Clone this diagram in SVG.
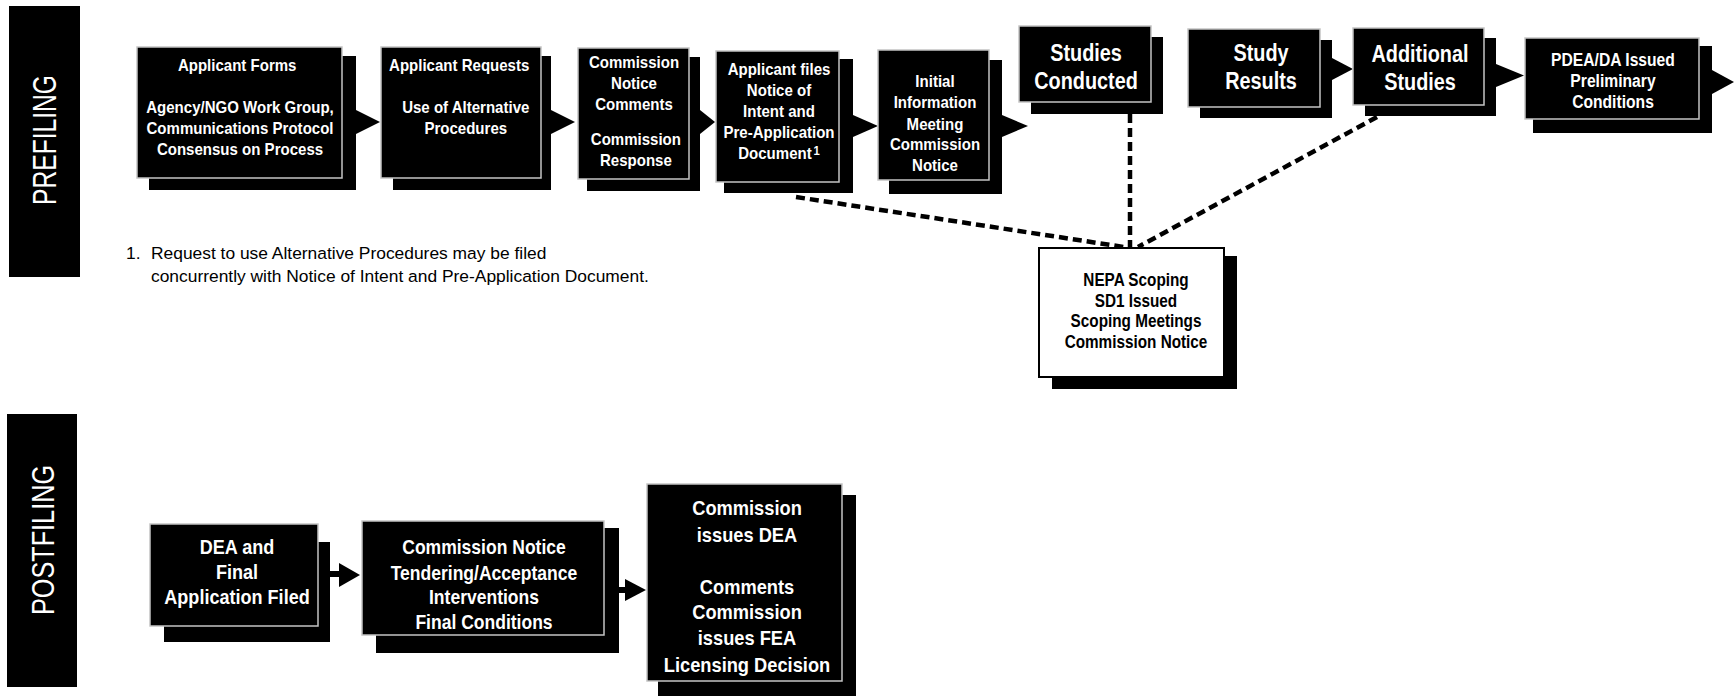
<svg xmlns="http://www.w3.org/2000/svg" width="1734" height="696" viewBox="0 0 1734 696">
<style>
.bg{fill:#fff}
.s{fill:#000}
.f{fill:#000;stroke:#c4c4c4;stroke-width:1.5}
.w{fill:#fff;stroke:#000;stroke-width:2}
.t{font-family:"Liberation Sans",Arial,sans-serif;font-weight:bold;fill:#fff;text-anchor:middle}
.tb{fill:#000}
.t16{font-size:16px}
.t18{font-size:18px}
.t21{font-size:21px}
.t24{font-size:24.5px}
.band{fill:#000}
.bl{font-family:"Liberation Sans",Arial,sans-serif;fill:#fff;text-anchor:middle}
.note{font-family:"Liberation Sans",Arial,sans-serif;font-size:17.4px;fill:#000}
.dash{fill:none;stroke:#000;stroke-width:4.5;stroke-dasharray:9 5}
.arr{fill:#000}
</style>
<rect class="bg" x="0" y="0" width="1734" height="696"/>

<g id="prefiling-band">
<rect class="band" x="9" y="6" width="71" height="271"/>
<text class="bl" font-size="33.5" transform="translate(55.5,140) rotate(-90)" textLength="130" lengthAdjust="spacingAndGlyphs">PREFILING</text>
</g>
<g id="postfiling-band">
<rect class="band" x="7" y="414" width="70" height="273"/>
<text class="bl" font-size="32" transform="translate(54,540) rotate(-90)" textLength="150" lengthAdjust="spacingAndGlyphs">POSTFILING</text>
</g>

<g id="footnote">
<text class="note" y="258.5"><tspan x="126">1.</tspan><tspan x="151">Request to use Alternative Procedures may be filed</tspan></text>
<text class="note" x="151" y="281.5">concurrently with Notice of Intent and Pre-Application Document.</text>
</g>

<g id="connectors">
<path class="dash" d="M796 197 L1124 247"/>
<path class="dash" d="M1130 114 L1130 247"/>
<path class="dash" d="M1377 117 L1138 247"/>
<polygon class="arr" points="356,110 380,122 356,134"/>
<polygon class="arr" points="551,110 575,122 551,134"/>
<polygon class="arr" points="700,110 715,122 700,134"/>
<polygon class="arr" points="853,115 878,126 853,137"/>
<polygon class="arr" points="1002,115 1028,126 1002,137"/>
<polygon class="arr" points="1332,58 1353,69 1332,80"/>
<polygon class="arr" points="1496,64 1524,75.5 1496,87"/>
<polygon class="arr" points="1712,70 1734,82 1712,94"/>
<rect class="arr" x="330" y="571" width="10" height="6"/>
<polygon class="arr" points="339,563 360,575 339,587"/>
<rect class="arr" x="619" y="587" width="7" height="6"/>
<polygon class="arr" points="625,579 646,590 625,601"/>
</g>

<g id="n1">
<rect class="s" x="149" y="56" width="207" height="134"/>
<rect class="f" x="137" y="47" width="205" height="131"/>
<text class="t t16" transform="translate(240,0) scale(0.94,1)"><tspan x="-3" y="71.5">Applicant Forms</tspan><tspan x="0" y="113">Agency/NGO Work Group,</tspan><tspan x="0" y="134">Communications Protocol</tspan><tspan x="0" y="155">Consensus on Process</tspan></text>
</g>
<g id="n2">
<rect class="s" x="393" y="56" width="158" height="134"/>
<rect class="f" x="381" y="47" width="160" height="131"/>
<text class="t t16" transform="translate(462,0) scale(0.94,1)"><tspan x="-3" y="71.5">Applicant Requests</tspan><tspan x="4" y="113">Use of Alternative</tspan><tspan x="4" y="134">Procedures</tspan></text>
</g>
<g id="n3">
<rect class="s" x="587" y="57" width="113" height="134"/>
<rect class="f" x="578" y="48" width="111" height="131"/>
<text class="t t16" transform="translate(634,0) scale(0.94,1)"><tspan x="0" y="68">Commission</tspan><tspan x="0" y="89">Notice</tspan><tspan x="0" y="110">Comments</tspan><tspan x="2" y="145">Commission</tspan><tspan x="2" y="166">Response</tspan></text>
</g>
<g id="n4">
<rect class="s" x="724" y="59" width="129" height="134"/>
<rect class="f" x="716" y="51" width="123" height="131"/>
<text class="t t16" transform="translate(779,0) scale(0.94,1)"><tspan x="0" y="75">Applicant files</tspan><tspan x="0" y="96">Notice of</tspan><tspan x="0" y="117">Intent and</tspan><tspan x="0" y="138">Pre-Application</tspan><tspan x="0" y="159">Document<tspan font-size="12" dx="2" dy="-4">1</tspan></tspan></text>
</g>
<g id="n5">
<rect class="s" x="889" y="60" width="113" height="134"/>
<rect class="f" x="878" y="50" width="111" height="130"/>
<text class="t t16" transform="translate(935,0) scale(0.94,1)"><tspan x="0" y="87">Initial</tspan><tspan x="0" y="108">Information</tspan><tspan x="0" y="130">Meeting</tspan><tspan x="0" y="150">Commission</tspan><tspan x="0" y="171">Notice</tspan></text>
</g>
<g id="n6">
<rect class="s" x="1031" y="37" width="132" height="77"/>
<rect class="f" x="1019" y="26" width="132" height="76"/>
<text class="t t24" transform="translate(1086,0) scale(0.81,1)"><tspan x="0" y="61">Studies</tspan><tspan x="0" y="89">Conducted</tspan></text>
</g>
<g id="n7">
<rect class="s" x="1200" y="40" width="132" height="78"/>
<rect class="f" x="1188" y="29" width="132" height="78"/>
<text class="t t24" transform="translate(1261,0) scale(0.81,1)"><tspan x="0" y="61">Study</tspan><tspan x="0" y="89">Results</tspan></text>
</g>
<g id="n8">
<rect class="s" x="1365" y="38" width="131" height="78"/>
<rect class="f" x="1353" y="28" width="131" height="77"/>
<text class="t t24" transform="translate(1420,0) scale(0.81,1)"><tspan x="0" y="62">Additional</tspan><tspan x="0" y="90">Studies</tspan></text>
</g>
<g id="n9">
<rect class="s" x="1533" y="46" width="179" height="87"/>
<rect class="f" x="1525" y="38" width="174" height="81"/>
<text class="t t18" transform="translate(1613,0) scale(0.87,1)"><tspan x="0" y="66.5">PDEA/DA Issued</tspan><tspan x="0" y="87.5">Preliminary</tspan><tspan x="0" y="108.5">Conditions</tspan></text>
</g>
<g id="n10">
<rect class="s" x="1052" y="256" width="185" height="133"/>
<rect class="w" x="1039" y="248" width="185" height="129"/>
<text class="t t18 tb" transform="translate(1136,0) scale(0.85,1)"><tspan x="0" y="286.5">NEPA Scoping</tspan><tspan x="0" y="307">SD1 Issued</tspan><tspan x="0" y="327.5">Scoping Meetings</tspan><tspan x="0" y="348">Commission Notice</tspan></text>
</g>
<g id="n11">
<rect class="s" x="164" y="542" width="166" height="100"/>
<rect class="f" x="150" y="524" width="168" height="102"/>
<text class="t t21" transform="translate(237,0) scale(0.86,1)"><tspan x="0" y="554.5">DEA and</tspan><tspan x="0" y="579.5">Final</tspan><tspan x="0" y="604.5">Application Filed</tspan></text>
</g>
<g id="n12">
<rect class="s" x="376" y="528" width="243" height="125"/>
<rect class="f" x="362" y="521" width="242" height="114"/>
<text class="t t21" transform="translate(484,0) scale(0.835,1)"><tspan x="0" y="554.5">Commission Notice</tspan><tspan x="0" y="580">Tendering/Acceptance</tspan><tspan x="0" y="604.5">Interventions</tspan><tspan x="0" y="629.5">Final Conditions</tspan></text>
</g>
<g id="n13">
<rect class="s" x="658" y="495" width="198" height="201"/>
<rect class="f" x="647" y="484" width="195" height="197"/>
<text class="t t21" transform="translate(747,0) scale(0.87,1)"><tspan x="0" y="515.5">Commission</tspan><tspan x="0" y="542.5">issues DEA</tspan><tspan x="0" y="594.5">Comments</tspan><tspan x="0" y="619.5">Commission</tspan><tspan x="0" y="645.5">issues FEA</tspan><tspan x="0" y="672.5">Licensing Decision</tspan></text>
</g>
</svg>
